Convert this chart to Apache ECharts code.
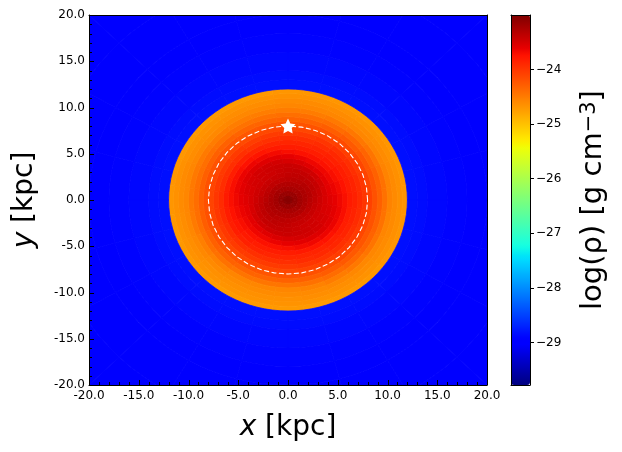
<!DOCTYPE html>
<html>
<head>
<meta charset="utf-8">
<script src="https://cdn.jsdelivr.net/npm/echarts@6/dist/echarts.min.js"></script>
<style>
html, body { margin: 0; padding: 0; background: #fff; }
#main { width: 622px; height: 452px; }
</style>
</head>
<body>
<div id="main"></div>
<script>
// log density, one row per ring (r in kpc), 24 sectors of 15 deg from +x counter-clockwise
var ringEdges = [0, 0.5, 1, 1.5, 2, 2.5, 3, 3.5, 4, 4.5, 5, 5.5, 6, 6.5, 7, 7.5, 8, 8.5, 9, 9.5, 10, 10.5, 11, 11.5, 12];
var sectorStep = 15;
var diskRho = [
    [-23.05,-23.05,-23.05,-23.05,-23.05,-23.05,-23.05,-23.05,-23.05,-23.05,-23.05,-23.05,-23.05,-23.05,-23.05,-23.05,-23.05,-23.05,-23.05,-23.05,-23.05,-23.05,-23.05,-23.05],
    [-23.12,-23.12,-23.13,-23.14,-23.15,-23.15,-23.15,-23.15,-23.15,-23.14,-23.13,-23.12,-23.12,-23.12,-23.13,-23.14,-23.15,-23.15,-23.15,-23.15,-23.15,-23.14,-23.13,-23.12],
    [-23.20,-23.20,-23.21,-23.22,-23.23,-23.24,-23.24,-23.24,-23.23,-23.22,-23.21,-23.20,-23.20,-23.20,-23.21,-23.22,-23.23,-23.24,-23.24,-23.24,-23.23,-23.22,-23.21,-23.20],
    [-23.26,-23.26,-23.26,-23.27,-23.28,-23.29,-23.30,-23.30,-23.30,-23.29,-23.28,-23.27,-23.26,-23.26,-23.26,-23.27,-23.28,-23.29,-23.30,-23.30,-23.30,-23.29,-23.28,-23.27],
    [-23.33,-23.31,-23.31,-23.31,-23.33,-23.34,-23.36,-23.37,-23.37,-23.37,-23.36,-23.34,-23.33,-23.31,-23.31,-23.31,-23.33,-23.34,-23.36,-23.37,-23.37,-23.37,-23.36,-23.34],
    [-23.39,-23.38,-23.36,-23.36,-23.36,-23.38,-23.39,-23.41,-23.42,-23.42,-23.42,-23.41,-23.39,-23.38,-23.36,-23.36,-23.36,-23.38,-23.39,-23.41,-23.42,-23.42,-23.42,-23.41],
    [-23.45,-23.43,-23.41,-23.40,-23.40,-23.40,-23.41,-23.43,-23.45,-23.46,-23.47,-23.46,-23.45,-23.43,-23.41,-23.40,-23.40,-23.40,-23.41,-23.43,-23.45,-23.46,-23.47,-23.46],
    [-23.51,-23.51,-23.49,-23.47,-23.45,-23.44,-23.43,-23.44,-23.45,-23.47,-23.49,-23.51,-23.51,-23.51,-23.49,-23.47,-23.45,-23.44,-23.43,-23.44,-23.45,-23.47,-23.49,-23.51],
    [-23.56,-23.58,-23.58,-23.58,-23.56,-23.53,-23.51,-23.49,-23.48,-23.49,-23.51,-23.53,-23.56,-23.58,-23.58,-23.58,-23.56,-23.53,-23.51,-23.49,-23.48,-23.49,-23.51,-23.53],
    [-23.60,-23.63,-23.65,-23.65,-23.65,-23.63,-23.60,-23.58,-23.56,-23.55,-23.56,-23.58,-23.60,-23.63,-23.65,-23.65,-23.65,-23.63,-23.60,-23.58,-23.56,-23.55,-23.56,-23.58],
    [-23.66,-23.68,-23.71,-23.73,-23.73,-23.73,-23.71,-23.68,-23.66,-23.64,-23.63,-23.64,-23.66,-23.68,-23.71,-23.73,-23.73,-23.73,-23.71,-23.68,-23.66,-23.64,-23.63,-23.64],
    [-23.72,-23.74,-23.76,-23.79,-23.81,-23.81,-23.81,-23.79,-23.76,-23.74,-23.72,-23.71,-23.72,-23.74,-23.76,-23.79,-23.81,-23.81,-23.81,-23.79,-23.76,-23.74,-23.72,-23.71],
    [-23.80,-23.81,-23.82,-23.84,-23.86,-23.88,-23.88,-23.88,-23.86,-23.84,-23.82,-23.81,-23.80,-23.81,-23.82,-23.84,-23.86,-23.88,-23.88,-23.88,-23.86,-23.84,-23.82,-23.81],
    [-23.84,-23.85,-23.87,-23.89,-23.92,-23.94,-23.95,-23.96,-23.97,-23.95,-23.94,-23.93,-23.92,-23.92,-23.93,-23.95,-23.95,-23.95,-23.94,-23.92,-23.90,-23.88,-23.86,-23.85],
    [-23.91,-23.92,-23.94,-23.96,-23.99,-24.02,-24.03,-24.04,-24.05,-24.03,-24.02,-24.01,-24.00,-24.00,-24.01,-24.03,-24.03,-24.03,-24.02,-24.00,-23.98,-23.96,-23.94,-23.92],
    [-23.99,-24.00,-24.02,-24.05,-24.08,-24.11,-24.12,-24.13,-24.14,-24.12,-24.11,-24.10,-24.09,-24.09,-24.10,-24.12,-24.12,-24.12,-24.11,-24.09,-24.07,-24.04,-24.02,-24.00],
    [-24.08,-24.09,-24.11,-24.14,-24.17,-24.20,-24.21,-24.22,-24.23,-24.21,-24.20,-24.19,-24.18,-24.18,-24.19,-24.21,-24.21,-24.21,-24.20,-24.18,-24.16,-24.13,-24.11,-24.09],
    [-24.19,-24.20,-24.22,-24.25,-24.28,-24.31,-24.32,-24.33,-24.33,-24.31,-24.30,-24.29,-24.28,-24.28,-24.30,-24.31,-24.32,-24.32,-24.31,-24.29,-24.26,-24.24,-24.22,-24.20],
    [-24.30,-24.31,-24.33,-24.35,-24.38,-24.40,-24.41,-24.42,-24.43,-24.42,-24.41,-24.40,-24.39,-24.40,-24.41,-24.42,-24.44,-24.45,-24.45,-24.42,-24.38,-24.35,-24.32,-24.31],
    [-24.42,-24.42,-24.44,-24.46,-24.48,-24.50,-24.50,-24.51,-24.51,-24.50,-24.49,-24.48,-24.47,-24.49,-24.52,-24.54,-24.56,-24.57,-24.57,-24.54,-24.50,-24.47,-24.44,-24.43],
    [-24.55,-24.55,-24.56,-24.57,-24.57,-24.57,-24.57,-24.58,-24.58,-24.59,-24.58,-24.57,-24.57,-24.58,-24.59,-24.60,-24.61,-24.61,-24.61,-24.60,-24.59,-24.58,-24.57,-24.56],
    [-24.60,-24.60,-24.61,-24.61,-24.61,-24.61,-24.61,-24.62,-24.62,-24.63,-24.62,-24.61,-24.61,-24.62,-24.63,-24.64,-24.64,-24.64,-24.64,-24.63,-24.63,-24.62,-24.61,-24.60],
    [-24.64,-24.64,-24.65,-24.65,-24.65,-24.65,-24.65,-24.66,-24.66,-24.66,-24.66,-24.65,-24.65,-24.66,-24.66,-24.67,-24.67,-24.67,-24.67,-24.67,-24.66,-24.66,-24.65,-24.64],
    [-24.68,-24.68,-24.69,-24.69,-24.69,-24.69,-24.69,-24.70,-24.70,-24.70,-24.70,-24.69,-24.69,-24.70,-24.70,-24.71,-24.71,-24.71,-24.71,-24.71,-24.70,-24.70,-24.69,-24.68]
];
// halo outside the disk, plain rings
var haloEdges = [12, 13, 14, 16, 18, 20, 24, 29];
var haloRho = [-28.84, -28.86, -28.89, -28.92, -28.95, -28.97, -28.98];
// dashed circle at 8 kpc, the star is the sun
var circleX = [8, 7.88, 7.52, 6.93, 6.13, 5.14, 4, 2.74, 1.39, 0, -1.39, -2.74, -4, -5.14, -6.13, -6.93, -7.52, -7.88, -8, -7.88, -7.52, -6.93, -6.13, -5.14, -4, -2.74, -1.39, 0, 1.39, 2.74, 4, 5.14, 6.13, 6.93, 7.52, 7.88, 8];
var circleY = [0, 1.39, 2.74, 4, 5.14, 6.13, 6.93, 7.52, 7.88, 8, 7.88, 7.52, 6.93, 6.13, 5.14, 4, 2.74, 1.39, 0, -1.39, -2.74, -4, -5.14, -6.13, -6.93, -7.52, -7.88, -8, -7.88, -7.52, -6.93, -6.13, -5.14, -4, -2.74, -1.39, 0];
var starPoint = [0, 8];
var colorbarTicks = [-29, -28, -27, -26, -25, -24];
var majorTicks = [-20, -15, -10, -5, 0, 5, 10, 15, 20];
var minorTicks = [-19, -18, -17, -16, -14, -13, -12, -11, -9, -8, -7, -6, -4, -3, -2, -1, 1, 2, 3, 4, 6, 7, 8, 9, 11, 12, 13, 14, 16, 17, 18, 19];
var rhoMin = -29.78, rhoMax = -23;

// matplotlib jet
function jetChannel(stops, t) {
    for (var i = 1; i < stops.length; i++) {
        if (t <= stops[i][0]) {
            var a = stops[i - 1], b = stops[i];
            return a[1] + (b[1] - a[1]) * (t - a[0]) / (b[0] - a[0]);
        }
    }
    return stops[stops.length - 1][1];
}
var jetColors = [];
for (var c = 0; c < 256; c++) {
    var t = c / 255;
    var r = jetChannel([[0, 0], [0.35, 0], [0.66, 1], [0.89, 1], [1, 0.5]], t);
    var g = jetChannel([[0, 0], [0.125, 0], [0.375, 1], [0.64, 1], [0.91, 0], [1, 0]], t);
    var b = jetChannel([[0, 0.5], [0.11, 1], [0.34, 1], [0.65, 0], [1, 0]], t);
    jetColors.push('rgb(' + Math.round(r * 255) + ',' + Math.round(g * 255) + ',' + Math.round(b * 255) + ')');
}

// [rIn, rOut, thetaStart, thetaEnd, rho]
var cells = [];
for (var i = 0; i < diskRho.length; i++) {
    for (var j = 0; j < diskRho[i].length; j++) {
        cells.push([ringEdges[i], ringEdges[i + 1], j * sectorStep - sectorStep / 2, j * sectorStep + sectorStep / 2, diskRho[i][j]]);
    }
}
for (var i = 0; i < haloRho.length; i++) {
    for (var j = 0; j < 24; j++) {
        cells.push([haloEdges[i], haloEdges[i + 1], j * sectorStep, (j + 1) * sectorStep, haloRho[i]]);
    }
}

function renderCell(params, api) {
    var rIn = api.value(0), rOut = api.value(1), t0 = api.value(2), t1 = api.value(3);
    var pts = [];
    for (var k = 0; k <= 4; k++) {
        var a = (t0 + (t1 - t0) * k / 4) * Math.PI / 180;
        pts.push(api.coord([rOut * Math.cos(a), rOut * Math.sin(a)]));
    }
    for (var k = 4; k >= 0; k--) {
        var a = (t0 + (t1 - t0) * k / 4) * Math.PI / 180;
        pts.push(api.coord([rIn * Math.cos(a), rIn * Math.sin(a)]));
    }
    var color = api.visual('color');
    return {
        type: 'polygon',
        shape: { points: pts },
        style: { fill: color, stroke: color, lineWidth: 0.8 }
    };
}

// inward ticks on the left and bottom frame, drawn above the density cells
var tickMarks = [];
majorTicks.forEach(function (v) { tickMarks.push([v, 5]); });
minorTicks.forEach(function (v) { tickMarks.push([v, 3]); });

function renderTick(params, api) {
    var v = api.value(0), len = api.value(1);
    var bottom = api.coord([v, -20]);
    var left = api.coord([-20, v]);
    var bx = Math.round(bottom[0]) + 0.5, ly = Math.round(left[1]) + 0.5;
    return {
        type: 'group',
        children: [
            { type: 'line', shape: { x1: bx, y1: bottom[1], x2: bx, y2: bottom[1] - len }, style: { stroke: '#000', lineWidth: 1 } },
            { type: 'line', shape: { x1: left[0], y1: ly, x2: left[0] + len, y2: ly }, style: { stroke: '#000', lineWidth: 1 } }
        ]
    };
}

var labelFont = 'DejaVu Sans';
var nameRich = {
    i: { fontFamily: labelFont, fontStyle: 'italic', fontSize: 28, color: '#000' },
    n: { fontFamily: labelFont, fontSize: 28, color: '#000' }
};
var barNameRich = {
    n: { fontFamily: labelFont, fontSize: 29, color: '#000' },
    s: { fontFamily: labelFont, fontSize: 21, color: '#000', verticalAlign: 'top' }
};
var frameLine = { show: true, onZero: false, lineStyle: { color: '#000', width: 1 } };

function kpcAxis(position, nameText, extra, labelExtra) {
    var label = {
        show: true,
        margin: 4,
        fontFamily: labelFont,
        fontSize: 12,
        color: '#000',
        formatter: function (v) { return v.toFixed(1); }
    };
    for (var lk in labelExtra) { label[lk] = labelExtra[lk]; }
    var axis = {
        type: 'value',
        position: position,
        min: -20,
        max: 20,
        interval: 5,
        z: 10,
        splitLine: { show: false },
        axisLine: frameLine,
        axisTick: { show: false },
        axisLabel: label,
        name: nameText,
        nameLocation: 'middle',
        nameTextStyle: { rich: nameRich }
    };
    for (var key in extra) { axis[key] = extra[key]; }
    return axis;
}

function frameAxis(gridIndex, position, min, max) {
    return {
        type: 'value',
        gridIndex: gridIndex,
        position: position,
        min: min,
        max: max,
        z: 10,
        splitLine: { show: false },
        axisLine: frameLine,
        axisTick: { show: false },
        axisLabel: { show: false }
    };
}

var option = {
    animation: false,
    backgroundColor: '#fff',
    grid: [
        { left: 89, top: 15, width: 398, height: 370, outerBoundsMode: 'none' },
        { left: 511, top: 15, width: 19, height: 370, outerBoundsMode: 'none' }
    ],
    xAxis: [
        kpcAxis('bottom', '{i|x}{n| [kpc]}', { nameGap: 29 }, { margin: 5 }),
        frameAxis(0, 'top', -20, 20),
        frameAxis(1, 'bottom', 0, 1),
        frameAxis(1, 'top', 0, 1)
    ],
    yAxis: [
        kpcAxis('left', '{i|y}{n| [kpc]}', { nameGap: 50, nameRotate: 90 }, { padding: [3, 0, 0, 0] }),
        frameAxis(0, 'right', -20, 20),
        frameAxis(1, 'left', rhoMin, rhoMax),
        {
            type: 'value',
            gridIndex: 1,
            position: 'right',
            min: rhoMin,
            max: rhoMax,
            z: 10,
            splitLine: { show: false },
            axisLine: frameLine,
            axisTick: { show: true, length: 4, customValues: colorbarTicks, lineStyle: { color: '#000', width: 1 } },
            axisLabel: {
                show: true,
                margin: 6,
                padding: [3, 0, 0, 0],
                customValues: colorbarTicks,
                fontFamily: labelFont,
                fontSize: 12,
                color: '#000',
                formatter: function (v) { return '\u2212' + Math.abs(v); }
            },
            name: '{n|log(\u03c1) [g cm}{s|\u22123}{n|]}',
            nameLocation: 'middle',
            nameRotate: 90,
            nameGap: 49,
            nameTextStyle: { rich: barNameRich }
        }
    ],
    visualMap: {
        type: 'continuous',
        seriesIndex: 0,
        dimension: 4,
        min: rhoMin,
        max: rhoMax,
        left: 511,
        top: 15,
        padding: 0,
        itemWidth: 19,
        itemHeight: 370,
        text: null,
        showLabel: false,
        calculable: false,
        hoverLink: false,
        inRange: { color: jetColors }
    },
    series: [
        {
            type: 'custom',
            xAxisIndex: 0,
            yAxisIndex: 0,
            coordinateSystem: 'cartesian2d',
            renderItem: renderCell,
            clip: true,
            data: cells,
            encode: { x: 0, y: 1 },
            silent: true,
            z: 2
        },
        {
            type: 'line',
            xAxisIndex: 0,
            yAxisIndex: 0,
            data: circleX.map(function (x, i) { return [x, circleY[i]]; }),
            showSymbol: false,
            lineStyle: { color: '#fff', width: 1.1, type: [5, 2.5] },
            silent: true,
            z: 3
        },
        {
            type: 'scatter',
            xAxisIndex: 0,
            yAxisIndex: 0,
            data: [starPoint],
            symbol: 'path://M50 0 L64.7 29.8 L97.6 34.5 L73.8 57.7 L79.4 90.5 L50 75 L20.6 90.5 L26.2 57.7 L2.4 34.5 L35.3 29.8 Z',
            symbolSize: 15,
            itemStyle: { color: '#fff', opacity: 1 },
            silent: true,
            z: 4
        },
        {
            type: 'custom',
            xAxisIndex: 0,
            yAxisIndex: 0,
            coordinateSystem: 'cartesian2d',
            renderItem: renderTick,
            data: tickMarks,
            encode: { x: 0 },
            silent: true,
            z: 5
        }
    ]
};

var myChart = echarts.init(document.getElementById('main'), null, { renderer: 'canvas' });
myChart.setOption(option);
</script>
</body>
</html>
